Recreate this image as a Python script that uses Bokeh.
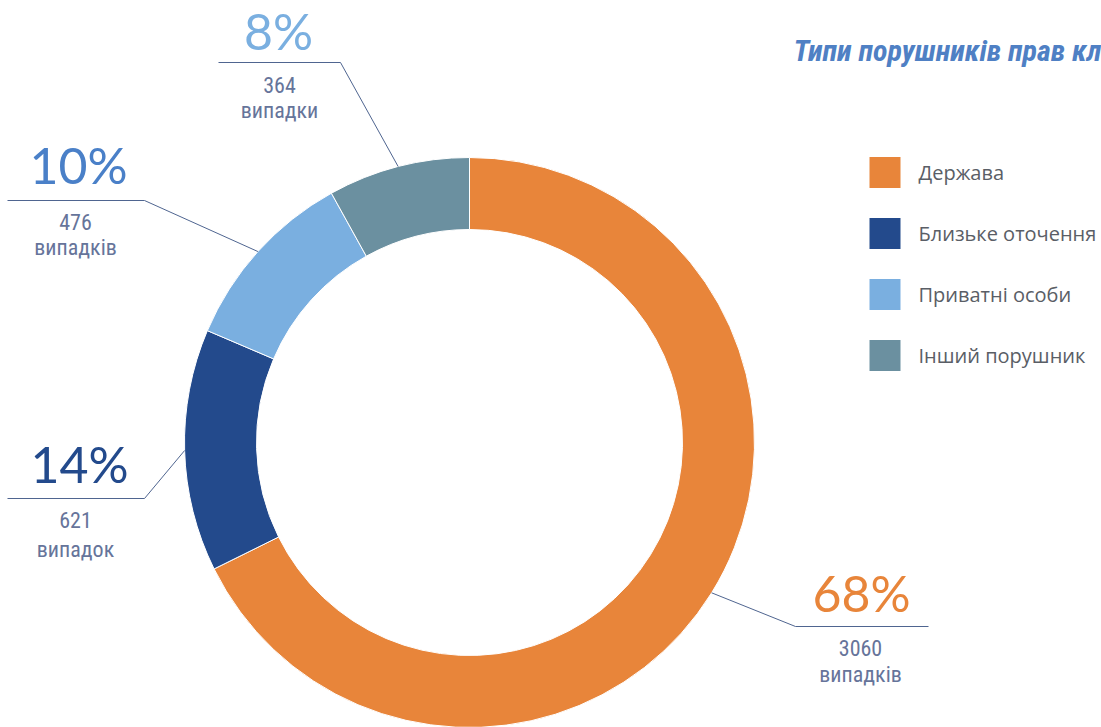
import math
from bokeh.plotting import figure
from bokeh.models import ColumnDataSource, Range1d
from bokeh.core.properties import value
from bokeh.embed import file_html
from bokeh.resources import INLINE

# ---------------- data ----------------
categories = ["Держава", "Близьке оточення", "Приватні особи", "Інший порушник"]
cases = [3060, 621, 476, 364]
pct_labels = ["68%", "14%", "10%", "8%"]
case_words = ["випадків", "випадок", "випадків", "випадки"]
title_text = "Типи порушників прав кл"

# ---------------- styles ----------------
slice_colors = ["#E8853A", "#234A8C", "#7AAFE0", "#6B90A0"]
pct_colors = ["#E8853A", "#234A8C", "#4A80C8", "#7AAFE0"]
count_color = "#66749A"
leader_color = "#4F6590"
COND = "Roboto Condensed, DejaVu Sans Condensed"

W, H = 1101, 727
TOP = 727  # data y = TOP - screen y

def Y(sy):
    return TOP - sy

cx, cy = 469, Y(442)
R_out, R_in = 285, 213

# label layout per slice: pct x, pct centre y, line x0, x1, line y, count x, count y1, count y2
label_layout = [
    dict(px=861, pc=592, lx0=795, lx1=928, ly=626, cxl=860, cy1=647, cy2=674),
    dict(px=79, pc=463, lx0=7, lx1=144, ly=498, cxl=75, cy1=519, cy2=549),
    dict(px=78, pc=164, lx0=7, lx1=144, ly=200, cxl=75, cy1=221, cy2=247),
    dict(px=278, pc=30, lx0=218, lx1=340, ly=62, cxl=279, cy1=84, cy2=110),
]
join_end = ["lx0", "lx1", "lx1", "lx1"]

p = figure(width=W, height=H, output_backend="svg", toolbar_location=None,
           x_axis_type=None, y_axis_type=None, min_border=0,
           x_range=Range1d(0, W), y_range=Range1d(Y(H), Y(0)))
p.grid.visible = False
p.outline_line_color = None
p.background_fill_color = "white"
p.border_fill_color = "white"

total = float(sum(cases))
starts, ends, mids = [], [], []
cum = 0.0
for c in cases:
    f = c / total
    starts.append(math.pi / 2 - 2 * math.pi * cum)
    ends.append(math.pi / 2 - 2 * math.pi * (cum + f))
    mids.append(math.pi / 2 - 2 * math.pi * (cum + f / 2))
    cum += f

src = ColumnDataSource(dict(start=starts, end=ends, color=slice_colors, cat=categories))
p.annular_wedge(x=cx, y=cy, inner_radius=R_in, outer_radius=R_out,
                start_angle="start", end_angle="end", direction="clock",
                fill_color="color", line_color="white", line_width=1, source=src)

for i, lay in enumerate(label_layout):
    ex = cx + R_out * math.cos(mids[i])
    ey = cy + R_out * math.sin(mids[i])
    jx = lay[join_end[i]]
    p.line([lay["lx0"], lay["lx1"]], [Y(lay["ly"]), Y(lay["ly"])], line_color=leader_color, line_width=1)
    p.line([jx, ex], [Y(lay["ly"]), ey], line_color=leader_color, line_width=1)
    p.text(x=[lay["px"]], y=[Y(lay["pc"])], text=[pct_labels[i]],
           text_font=value("Lato"), text_font_size="50px", text_color=pct_colors[i],
           text_align="center", text_baseline="middle")
    p.text(x=[lay["cxl"]], y=[Y(lay["cy1"])], text=[str(cases[i])],
           text_font=value(COND), text_font_size="22px", text_color=count_color,
           text_align="center", text_baseline="middle")
    p.text(x=[lay["cxl"]], y=[Y(lay["cy2"])], text=[case_words[i]],
           text_font=value(COND), text_font_size="22px", text_color=count_color,
           text_align="center", text_baseline="middle")

# title
p.text(x=[793], y=[Y(50)], text=[title_text], text_font=value(COND),
       text_font_style="bold italic", text_font_size="30px", text_color="#4F80C4",
       text_align="left", text_baseline="middle")

# legend
leg_y = [172, 233, 294, 355]
leg_src = ColumnDataSource(dict(x=[884.5] * 4, y=[Y(v) for v in leg_y], color=slice_colors,
                                tx=[918] * 4, label=categories))
p.rect(x="x", y="y", width=31, height=31, fill_color="color", line_color=None, source=leg_src)
p.text(x="tx", y="y", text="label", text_font=value("Open Sans"), text_font_size="20px",
       text_color="#5A5E66", text_align="left", text_baseline="middle", source=leg_src)

open("out.html", "w").write(file_html(p, INLINE))
